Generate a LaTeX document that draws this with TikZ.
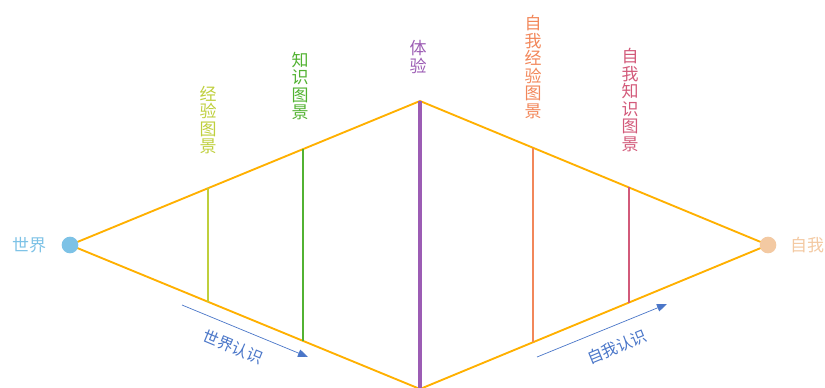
\documentclass[tikz,border=0pt]{standalone}
\usepackage{fontspec}
\newfontfamily\cjk{Noto Sans CJK SC}
\usetikzlibrary{arrows.meta,calc}
\definecolor{rim}{HTML}{FFB000}
\definecolor{worldc}{HTML}{7DC2E6}
\definecolor{selfc}{HTML}{F3C9A2}
\definecolor{expc}{HTML}{BFCF3C}
\definecolor{knowc}{HTML}{52B232}
\definecolor{livec}{HTML}{9C5CB4}
\definecolor{sexpc}{HTML}{F2875A}
\definecolor{sknowc}{HTML}{D25A7A}
\definecolor{arrc}{HTML}{4A76C8}
\tikzset{%
  spot/.style   = {circle, inner sep=0pt, minimum size=5mm},%
  word/.style   = {font=\cjk\fontsize{14.5}{15}\selectfont, inner sep=1pt},%
  vlabel/.style = {word, align=center, font=\cjk\fontsize{14.5}{14.9}\selectfont},%
  slant/.style  = {word, text=arrc, inner sep=0pt, font=\cjk\fontsize{13.5}{14}\selectfont},%
  edge/.style   = {draw=rim, line width=1.6pt},%
  bar/.style    = {line width=1.5pt},%
  way/.style    = {draw=arrc, line width=0.6pt, -{Triangle[length=3mm,width=2.3mm]}}%
}

\begin{document}
\begin{tikzpicture}[x=0.03cm,y=-0.03cm]
		\useasboundingbox (0,0) rectangle (825,387);
		% corners of the rhombus
		\coordinate (top) at (420,101);
		\coordinate (bot) at (420,389);
		\node [spot] (w) at (70,245) {};
		\node [spot] (s) at (768,245) {};
		\draw [edge] (w.center) -- (top) -- (s.center) -- (bot) -- cycle;
		% vertical bars
		\coordinate (e1) at ($(w.center)!0.394!(top)$);
		\coordinate (e2) at ($(w.center)!0.394!(bot)$);
		\coordinate (k1) at ($(w.center)!0.666!(top)$);
		\coordinate (k2) at ($(w.center)!0.666!(bot)$);
		\coordinate (se1) at ($(s.center)!0.675!(top)$);
		\coordinate (se2) at ($(s.center)!0.675!(bot)$);
		\coordinate (sk1) at ($(s.center)!0.40!(top)$);
		\coordinate (sk2) at ($(s.center)!0.40!(bot)$);
		\draw [bar, expc] (e1) -- (e2);
		\draw [bar, knowc] (k1) -- (k2);
		\draw [bar, sexpc] (se1) -- (se2);
		\draw [bar, sknowc] (sk1) -- (sk2);
		\draw [livec, line width=3.6pt] (top) -- (bot);
		\node [spot, fill=worldc] at (w) {};
		\node [spot, fill=selfc] at (s) {};
		% labels
		\node [word, text=worldc] (wl) at (29,245) {世界};
		\node [word, text=selfc] (sl) at (807,245) {自我};
		\node [vlabel, text=expc] (el) at (208,120) {经\\验\\图\\景};
		\node [vlabel, text=knowc] (kl) at (300,86) {知\\识\\图\\景};
		\node [vlabel, text=livec] (ll) at (418,57) {体\\验};
		\node [vlabel, text=sexpc] (sel) at (533,67) {自\\我\\经\\验\\图\\景};
		\node [vlabel, text=sknowc] (skl) at (630,100) {自\\我\\知\\识\\图\\景};
		% arrows
		\coordinate (a1) at (182,305);
		\coordinate (a2) at (308,357);
		\coordinate (b1) at (537,357);
		\coordinate (b2) at (667,304);
		\draw [way] (a1) -- (a2);
		\draw [way] (b1) -- (b2);
		\node [slant, rotate=-22.4] (al) at (233,347) {世界认识};
		\node [slant, rotate=22.4] (bl) at (617,347) {自我认识};
		\end{tikzpicture}
\end{document}
